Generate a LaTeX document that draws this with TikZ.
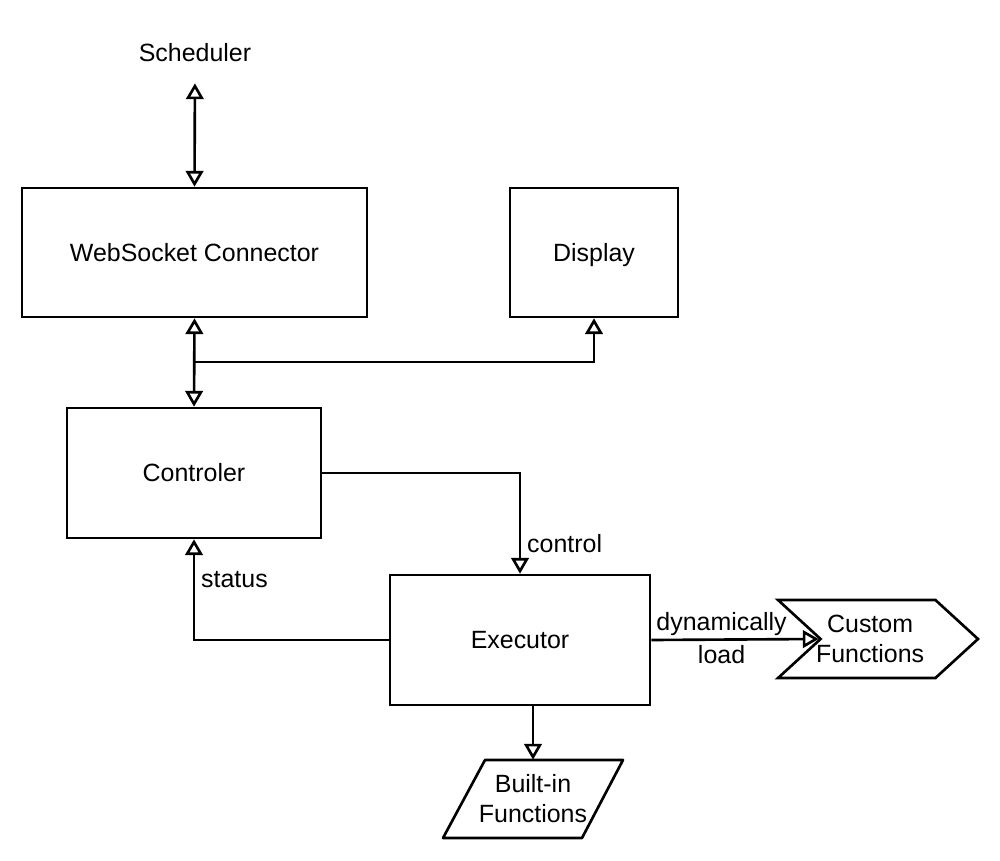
\documentclass[tikz,border=0pt]{standalone}
\usepackage{fontspec}
\setmainfont{Liberation Sans}
\usetikzlibrary{arrows.meta,shapes.symbols}

\begin{document}
\begin{tikzpicture}
    [
    x=0.02cm, y=-0.02cm,
    every node/.style={font=\fontsize{14.2}{17}\selectfont},
    block/.style={rectangle,draw,line width=1.5pt,minimum height=2.58cm},
    edge/.style={-{Triangle[open,length=9pt,width=10pt]},line width=1.5pt},
    dedge/.style={{Triangle[open,length=9pt,width=10pt]}-{Triangle[open,length=9pt,width=10pt]},line width=1.5pt}
    ]
\useasboundingbox (0,0) rectangle (1000,861);
\node (sched) at (195,53) {Scheduler};
\node[block,minimum width=6.9cm] (ws) at (194.5,252.5) {WebSocket Connector};
\node[block,minimum width=3.36cm,text depth=0pt] (disp) at (594,252.5) {Display};
\node[block,minimum width=5.08cm,minimum height=2.6cm] (ctrl) at (194,473) {Controler};
\node[block,minimum width=5.2cm,minimum height=2.6cm] (exec) at (520,640) {Executor};
\node[signal,draw,line width=1.5pt,signal from=west,signal to=east,signal pointer angle=85,
      minimum width=4cm,minimum height=1.56cm,align=center,inner sep=2pt] (custom) at (878,639) {\hspace*{-9pt}Custom\\\hspace*{-9pt}Functions};
\node[minimum height=1.56cm,inner sep=0pt,align=center] (builtin) at (533,799) {Built-in\\Functions};
\draw[line width=1.5pt,line join=round] (485,760) -- (623,760) -- (582,838) -- (443,838) -- cycle;
\coordinate (j) at (194.5,362);
\draw[dedge,shorten <=0.3cm] (sched.south) -- (ws.north);
\draw[dedge] (ws.south) -- (ctrl.north);
\draw[edge] (j) -| (disp.south);
\draw[edge] (ctrl.east) -| node[pos=0.85,right] {control} (exec.north);
\draw[edge] (exec.west) -| node[pos=0.8,right] {status} (ctrl.south);
\draw[edge] (exec.east) -- node[pos=0.42,above=-2pt] {dynamically} node[pos=0.42,below=-1pt] {load} (custom.west);
\draw[edge] (builtin.north |- exec.south) -- (builtin.north);
\end{tikzpicture}
\end{document}
